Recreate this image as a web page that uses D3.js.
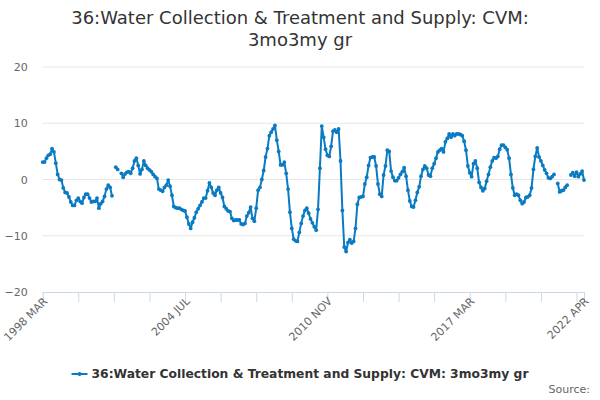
<!DOCTYPE html>
<html><head><meta charset="utf-8">
<script src="https://cdn.jsdelivr.net/npm/d3@7"></script>
<style>body{margin:0;background:#fff}svg{display:block;font-family:"DejaVu Sans",sans-serif}</style>
</head><body><svg id="c" width="600" height="400"></svg>
<script>
const titleLines = ["36:Water Collection & Treatment and Supply: CVM:", "3mo3my gr"];
const seriesName = "36:Water Collection & Treatment and Supply: CVM: 3mo3my gr";
const startYear = 1998, startMonth = 2, monthCount = 290;
const monthNames = ["JAN","FEB","MAR","APR","MAY","JUN","JUL","AUG","SEP","OCT","NOV","DEC"];
const categories = d3.range(monthCount).map(i => {
  const m = startMonth + i; return (startYear + Math.floor(m / 12)) + " " + monthNames[m % 12];
});
const values = [
 3.1,3.1,3.8,4.3,4.5,5.5,4.9,2.9,0.9,0.0,
 -0.1,-1.5,-2.3,-2.4,-3.1,-4.0,-4.6,-4.6,-3.7,-3.3,
 -3.9,-4.2,-3.2,-2.6,-2.6,-3.3,-4.0,-3.9,-3.9,-3.3,
 -5.1,-4.3,-3.9,-3.0,-1.7,-1.0,-1.4,-2.9,null,2.2,
 1.8,null,1.1,0.4,1.0,1.3,1.4,1.1,2.0,3.3,
 3.8,2.5,1.0,1.8,3.3,2.5,2.0,1.7,1.4,0.9,
 0.5,0.2,-1.7,-1.9,-2.1,-1.4,-1.0,-0.1,-1.2,-2.8,
 -4.8,-5.0,-5.1,-5.1,-5.3,-5.5,-5.6,-6.7,-7.9,-8.7,
 -7.6,-6.8,-5.8,-5.2,-4.6,-4.0,-3.3,-3.3,-2.0,-0.6,
 -1.4,-2.4,-2.8,-1.9,-1.4,-2.4,-3.2,-4.8,-5.2,-5.6,
 -5.7,-6.9,-7.3,-7.2,-7.2,-7.2,-7.9,-8.0,-7.8,-6.5,
 -5.9,-4.9,-6.9,-7.4,-5.1,-1.9,-1.4,0.0,1.6,4.0,
 5.5,7.8,8.4,9.0,9.6,7.0,5.0,2.6,2.6,3.1,
 1.1,-1.7,-5.8,-8.7,-10.6,-10.9,-11.0,-9.4,-7.8,-6.5,
 -5.5,-5.1,-6.0,-7.0,-7.7,-8.4,-9.0,-5.3,2.0,9.5,
 7.5,5.4,4.3,4.1,5.9,8.6,8.8,8.4,9.0,3.3,
 -5.5,-12.0,-12.8,-11.2,-10.7,-11.3,-11.0,-8.7,-4.4,-3.2,
 -3.1,-3.0,-0.8,0.4,2.5,3.9,4.0,4.0,2.4,-0.8,
 -2.6,-3.0,0.8,2.4,5.2,5.0,1.5,0.4,-0.2,-0.2,
 0.3,0.9,1.4,2.1,0.6,-1.9,-3.8,-4.8,-4.9,-3.7,
 -2.3,-1.3,0.6,1.8,2.4,2.0,0.8,0.6,2.0,2.8,
 3.8,4.9,5.2,5.5,4.9,6.7,7.3,8.1,7.5,8.1,
 7.8,8.1,8.1,8.0,7.8,6.8,5.2,2.4,1.2,0.5,
 2.8,3.3,2.0,-0.5,-1.4,-2.0,-1.6,-0.3,0.9,2.2,
 3.3,3.9,3.8,4.1,5.4,6.1,6.1,5.7,5.3,3.8,
 0.9,-1.5,-2.8,-2.6,-2.8,-3.7,-4.3,-4.0,-3.2,-3.1,
 -2.8,-1.5,1.8,4.1,5.6,4.0,3.3,2.5,1.7,1.1,
 0.3,0.2,0.5,0.9,null,-0.7,-2.2,-2.0,-1.9,-1.4,
 -1.0,null,0.8,1.2,0.6,1.3,0.5,1.0,1.5,-0.1
];
const yTicks = [-20, -10, 0, 10, 20];
const xTickLabels = ["1998 MAR", "2004 JUL", "2010 NOV", "2017 MAR", "2022 APR"];
const tickStep = 19;

const svg = d3.select("#c");
const color = "#0a7bc2";
const plotL = 42.7, plotR = 584, plotT = 67, plotB = 292;
const x = d3.scalePoint().domain(categories).range([plotL, plotR]);
const y = d3.scaleLinear().domain([-20, 20]).range([plotB, plotT]);

// title
svg.append("text").attr("x", 300).attr("text-anchor", "middle").attr("fill", "#333")
  .style("font-size", "18px")
  .selectAll("tspan").data(titleLines).join("tspan")
  .attr("x", 300).attr("y", (d, i) => 24 + i * 22).text(d => d);

// gridlines
svg.append("g").selectAll("line").data(yTicks.filter(t => t !== -20)).join("line")
  .attr("x1", plotL).attr("x2", plotR).attr("y1", d => y(d)).attr("y2", d => y(d))
  .attr("stroke", "#e6e6e6").attr("stroke-width", 1);

// y axis labels
const yAxis = d3.axisLeft(y).tickValues(yTicks).tickSize(0).tickPadding(15);
const gy = svg.append("g").attr("transform", `translate(${plotL},0)`).call(yAxis);
gy.select(".domain").remove();
gy.selectAll("text").attr("fill", "#666").style("font-size", "11px").style("font-family", "DejaVu Sans");

// x axis
const tickIdx = d3.range(0, monthCount - 1, tickStep).concat([monthCount - 1]);
const xAxis = d3.axisBottom(x).tickValues(tickIdx.map(i => categories[i])).tickSize(10).tickFormat(d => xTickLabels.includes(d) ? d : "");
const gx = svg.append("g").attr("transform", `translate(0,${plotB})`).call(xAxis);
gx.select(".domain").attr("stroke", "#ccd6eb").attr("d", `M${plotL},0.5H${plotR}`);
gx.selectAll(".tick line").attr("stroke", "#ccd6eb");
gx.selectAll(".tick text").attr("fill", "#666").style("font-size", "11px").style("font-family", "DejaVu Sans")
  .attr("text-anchor", "end").attr("dy", null).attr("y", 0)
  .attr("transform", "translate(5,10) rotate(-45)");

// line
const pts = values.map((v, i) => ({c: categories[i], v}));
const line = d3.line().defined(d => d.v !== null).x(d => x(d.c)).y(d => y(d.v));
svg.append("path").datum(pts).attr("d", line).attr("fill", "none").attr("stroke", color)
  .attr("stroke-width", 2).attr("stroke-linejoin", "round");
svg.append("g").selectAll("circle").data(pts.filter(d => d.v !== null)).join("circle")
  .attr("cx", d => x(d.c)).attr("cy", d => y(d.v)).attr("r", 1.9).attr("fill", color);

// legend
const lg = svg.append("g");
const lt = lg.append("text").attr("x", 92).attr("y", 378).attr("fill", "#333")
  .style("font-size", "12.3px").style("font-weight", "bold").text(seriesName);
const tw = lt.node().getComputedTextLength();
const lx = 300 - (tw + 20) / 2;
lt.attr("x", lx + 20);
lg.append("line").attr("x1", lx).attr("x2", lx + 16).attr("y1", 374).attr("y2", 374).attr("stroke", color).attr("stroke-width", 2);
lg.append("circle").attr("cx", lx + 8).attr("cy", 374).attr("r", 2).attr("fill", color);

// credits
svg.append("text").attr("x", 590).attr("y", 393).attr("text-anchor", "end").attr("fill", "#666")
  .style("font-size", "11px").text("Source:");
</script></body></html>
